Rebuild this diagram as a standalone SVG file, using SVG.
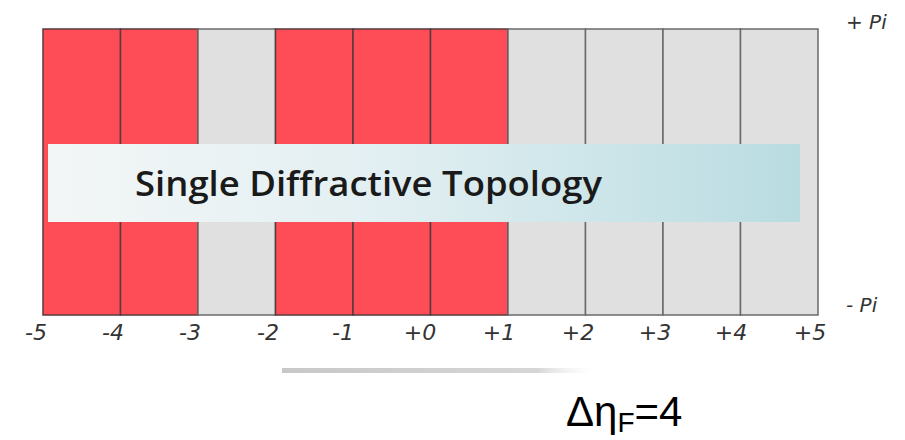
<svg xmlns="http://www.w3.org/2000/svg" width="905" height="440" viewBox="0 0 905 440">
<defs>
<linearGradient id="banner" x1="0" y1="0" x2="1" y2="0">
<stop offset="0" stop-color="#f3f6f6"/>
<stop offset="0.45" stop-color="#e2eff2"/>
<stop offset="1" stop-color="#b9dce1"/>
</linearGradient>
<linearGradient id="shadow" x1="0" y1="0" x2="1" y2="0">
<stop offset="0" stop-color="#c8c8c8"/>
<stop offset="0.8" stop-color="#d6d6d6"/>
<stop offset="1" stop-color="#ffffff" stop-opacity="0"/>
</linearGradient>
<style>
.r{fill:#ff4d58;stroke:#5a3a3c;stroke-width:1.5}
.g{fill:#e0e0e0;stroke:#6a6a6a;stroke-width:1.5}
.lbl{font-family:"DejaVu Sans","Liberation Sans",sans-serif;font-style:italic;font-size:22px;fill:#333;text-anchor:middle}
.pi{font-family:"DejaVu Sans","Liberation Sans",sans-serif;font-style:italic;font-size:20px;fill:#333}
</style>
</defs>
<rect width="905" height="440" fill="#ffffff"/>
<g id="cells">
<rect class="r" x="43" y="29" width="77.5" height="286"/>
<rect class="r" x="120.5" y="29" width="77.5" height="286"/>
<rect class="g" x="198" y="29" width="77.5" height="286"/>
<rect class="r" x="275.5" y="29" width="77.5" height="286"/>
<rect class="r" x="353" y="29" width="77.5" height="286"/>
<rect class="r" x="430.5" y="29" width="77.5" height="286"/>
<rect class="g" x="508" y="29" width="77.5" height="286"/>
<rect class="g" x="585.5" y="29" width="77.5" height="286"/>
<rect class="g" x="663" y="29" width="77.5" height="286"/>
<rect class="g" x="740.5" y="29" width="77.5" height="286"/>
</g>
<g id="banner-node">
<rect x="48" y="144" width="752" height="78" fill="url(#banner)"/>
<text x="135" y="196" font-family="'Open Sans','DejaVu Sans',sans-serif" font-size="34" font-weight="600" fill="#1a1a1a" textLength="467" lengthAdjust="spacingAndGlyphs">Single Diffractive Topology</text>
</g>
<g id="labels">
<text class="lbl" x="36" y="340">-5</text>
<text class="lbl" x="113" y="340">-4</text>
<text class="lbl" x="190" y="340">-3</text>
<text class="lbl" x="268" y="340">-2</text>
<text class="lbl" x="343" y="340">-1</text>
<text class="lbl" x="420" y="340">+0</text>
<text class="lbl" x="499" y="340">+1</text>
<text class="lbl" x="578" y="340">+2</text>
<text class="lbl" x="655" y="340">+3</text>
<text class="lbl" x="731" y="340">+4</text>
<text class="lbl" x="810" y="340">+5</text>
<text class="pi" x="846" y="29">+ Pi</text>
<text class="pi" x="846" y="312">- Pi</text>
</g>
<rect x="282" y="368" width="320" height="5" fill="url(#shadow)"/>
<g id="formula">
<text x="566" y="426" font-family="'Liberation Sans',Arial,sans-serif" font-size="42" fill="#000">Δη<tspan font-size="28" dy="6">F</tspan><tspan dy="-6">=4</tspan></text>
</g>
</svg>
